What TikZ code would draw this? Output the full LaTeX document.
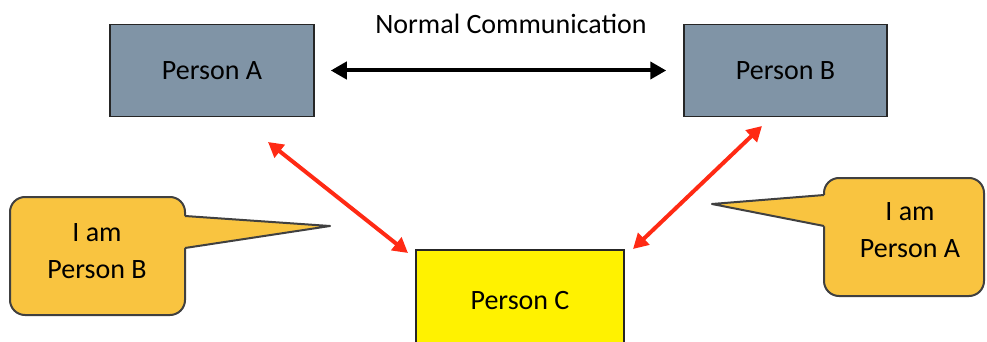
\documentclass[tikz,border=0pt]{standalone}
\usepackage{fontspec}
\setmainfont{Carlito}
\usepackage{xcolor}
\usetikzlibrary{arrows.meta, positioning}

\definecolor{slate}{RGB}{128,148,166}
\definecolor{bubble}{RGB}{249,196,64}
\definecolor{alarm}{RGB}{255,42,20}

\begin{document}
\begin{tikzpicture}[
  x=1pt, y=-1pt,
  person/.style={rectangle, draw=black!85, line width=1.5pt, minimum width=204pt, minimum height=92pt, font=\fontsize{28}{34}\selectfont},
  bubblebox/.style={rectangle, rounded corners=15pt, fill=bubble, draw=black!75, line width=2pt},
  bubbletext/.style={align=center, font=\fontsize{28}{37}\selectfont},
  pointer/.style={draw=black!75, line width=2pt, line join=round},
  comm/.style={{Triangle[length=16pt, width=17pt]}-{Triangle[length=16pt, width=17pt]}, line width=4pt},
  fake/.style={{Triangle[length=15pt, width=16pt]}-{Triangle[length=15pt, width=16pt]}, line width=4pt, alarm}
]
\useasboundingbox (0,0) rectangle (987,342);

\node[person, fill=slate] (pA) at (212,70.5) {Person A};
\node[person, fill=slate, minimum width=203pt] (pB) at (785.5,70.5) {Person B};
\node[person, fill=yellow, minimum width=208pt, minimum height=110pt, text depth=0pt] (pC) at (520,305) {\raisebox{10pt}{Person C}};

\node (normal) at (511,24) {\fontsize{28}{34}\selectfont Normal Communication};
\draw[comm, shorten <=16pt, shorten >=17pt] (pA) -- (pB);

% red arrows, ends just off the boxes
\coordinate (aC) at (268,142);
\coordinate (cA) at (408,253);
\coordinate (bC) at (762,126);
\coordinate (cB) at (633,249);
\draw[fake] (aC) -- (cA);
\draw[fake] (bC) -- (cB);

% speech bubbles
\node[bubblebox, minimum width=175pt, minimum height=118pt] (boxB) at (97.5,256) {};
\coordinate (tipB) at (330,226);
\fill[bubble] (tipB) -- (178,215.5) -- (178,249) -- cycle;
\draw[pointer] (185,216) -- (tipB) -- (185,248);
\node[bubbletext] (saysB) at (97,251) {I am\\Person B};

\node[bubblebox, minimum width=160pt, minimum height=118pt] (boxA) at (904,237) {};
\coordinate (tipA) at (712,204);
\fill[bubble] (tipA) -- (831,194.5) -- (831,227.5) -- cycle;
\draw[pointer] (824,195) -- (tipA) -- (824,226);
\node[bubbletext] (saysA) at (910,230) {I am\\Person A};
\end{tikzpicture}
\end{document}
